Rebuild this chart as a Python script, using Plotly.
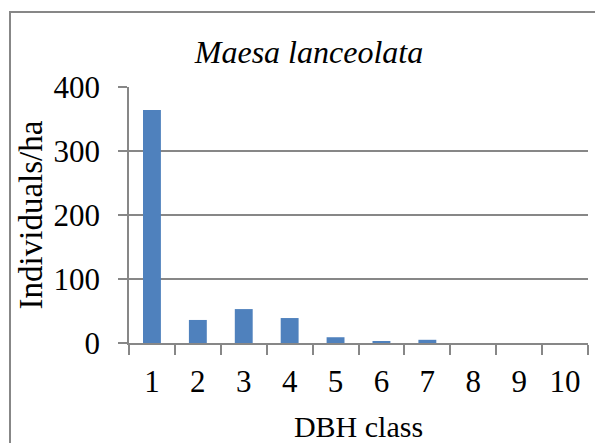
import plotly.graph_objects as go

dbh_class = ["1", "2", "3", "4", "5", "6", "7", "8", "9", "10"]
individuals_per_ha = [364, 36, 53, 39, 9, 3, 5, 0, 0, 0]
y_ticks = [0, 100, 200, 300, 400]

# page body has an 8px margin; lay out in page pixels and shift
OFF = 8
W, H = 603 - OFF, 443 - OFF
L, R, T, B = 129 - OFF, 15, 87 - OFF, 100
pw, ph = W - L - R, H - T - B

font = "Liberation Serif"
grey = "#878787"

fig = go.Figure(go.Bar(
    x=dbh_class, y=individuals_per_ha,
    marker=dict(color="#4F81BD", line=dict(width=0)),
))

def px_x(x):
    return (x - OFF - L) / pw

def px_y(y):
    return (H - B - (y - OFF)) / ph

fig.update_layout(
    width=W, height=H,
    margin=dict(l=L, r=R, t=T, b=B),
    paper_bgcolor="white", plot_bgcolor="white",
    bargap=0.61,
    showlegend=False,
    font=dict(family=font, size=31, color="black"),
    title=dict(text="<i>Maesa lanceolata</i>", x=(309 - OFF) / W, xanchor="center",
               y=1 - (52 - OFF) / H, yanchor="middle", xref="container",
               yref="container", font=dict(family=font, size=32, color="black")),
    xaxis=dict(type="category", tickson="boundaries", ticks="outside", ticklen=10,
               tickwidth=1.5, tickcolor=grey, showline=True, linecolor=grey, linewidth=1.5,
               showgrid=False, ticklabelstandoff=10,
               tickfont=dict(family=font, size=31),
               title=dict(text="DBH class", standoff=18, font=dict(family=font, size=30)),
               automargin=False),
    yaxis=dict(range=[0, 400], tickvals=y_ticks, ticks="outside", ticklen=9,
               tickwidth=1.5, tickcolor=grey, showline=True, linecolor=grey, linewidth=1.5,
               showgrid=True, gridcolor=grey, gridwidth=1.5, zeroline=False,
               ticklabelstandoff=12,
               tickfont=dict(family=font, size=31),
               title=dict(text="Individuals/ha", standoff=1, font=dict(family=font, size=33)),
               automargin=False),
    shapes=[dict(type="rect", xref="paper", yref="paper",
                 x0=px_x(10), x1=px_x(620), y0=px_y(460), y1=px_y(12),
                 line=dict(color=grey, width=2), fillcolor="rgba(0,0,0,0)", layer="below")],
)

fig.write_html("out.html")
